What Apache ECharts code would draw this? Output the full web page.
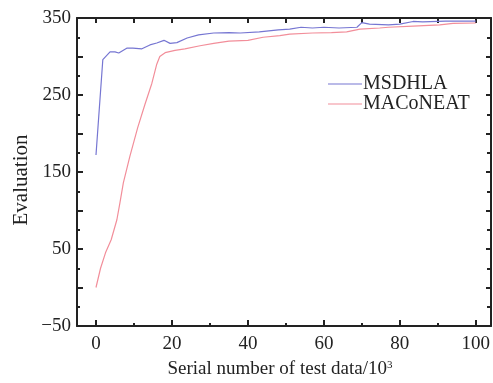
<!DOCTYPE html>
<html>
<head>
<meta charset="utf-8">
<script src="https://cdn.jsdelivr.net/npm/echarts@6/dist/echarts.min.js"></script>
<style>html,body{margin:0;padding:0;background:#fff}#c{width:493px;height:383px}</style>
</head>
<body>
<div id="c"></div>
<script>
const seriesNames = ['MSDHLA', 'MACoNEAT'];
const msdhlaX = [0, 1.8, 3.7, 5, 6, 8.2, 9.7, 12.1, 14.2, 16, 17.9, 19.5, 21.3, 24, 27, 31, 35, 38, 43, 48, 51, 54, 57, 60, 64, 68.7, 70, 72, 77, 80, 83.5, 86, 92, 100];
const msdhlaY = [172, 296, 306, 306, 304.5, 311, 311, 310, 315, 317.5, 321, 317, 318, 324, 328, 330.5, 331, 330.5, 332, 334.5, 335.5, 338, 337, 338, 337, 338, 344, 342, 341, 342, 345.5, 345, 346, 346];
const maconeatX = [0, 1.2, 2.5, 4, 5.5, 6.3, 7.2, 8.9, 11, 12.9, 14.7, 16, 16.8, 18.2, 20.8, 23.4, 27.4, 31, 35, 40, 44, 48.4, 51, 57, 62, 66, 69.5, 74.7, 77, 83.5, 90.5, 94, 100];
const maconeatY = [0, 25, 45, 62, 88, 110, 136, 170, 208, 238, 265, 290, 300, 305, 308, 310, 314, 317, 320, 321, 325, 327, 329, 330.5, 331, 332, 335.5, 337, 338, 339.5, 341, 343, 343.5];
const xMajorTicks = [0, 20, 40, 60, 80, 100];
const xMinorTicks = [10, 30, 50, 70, 90];
const xAllTicks = [0, 10, 20, 30, 40, 50, 60, 70, 80, 90, 100];
const yLabels = [-50, 50, 150, 250, 350];

const zip = (xs, ys) => xs.map((x, i) => [x, ys[i]]);
const font = 'Liberation Serif';
const black = '#222';
const lineIcon = 'path://M0,0L40,0L40,1L0,1Z';

const chart = echarts.init(document.getElementById('c'), null, {renderer: 'canvas'});
chart.setOption({
  backgroundColor: '#fff',
  animation: false,
  grid: {left: 77, top: 18, right: 2, bottom: 57, containLabel: false, outerBoundsMode: 'none'},
  legend: {
    orient: 'vertical', left: 328, top: 74, itemWidth: 34, itemHeight: 1.3, itemGap: 0, padding: 0,
    textStyle: {fontFamily: font, fontSize: 20, lineHeight: 19, color: black, padding: [0, 0, 0, -4]},
    data: [{name: seriesNames[0], icon: lineIcon}, {name: seriesNames[1], icon: lineIcon}]
  },
  xAxis: [
    {
      type: 'value', min: -5, max: 104, position: 'bottom',
      axisLine: {show: true, onZero: false, lineStyle: {color: black, width: 2}},
      axisTick: {show: true, inside: true, length: 6, customValues: xMajorTicks, lineStyle: {color: black, width: 2}},
      axisLabel: {show: true, customValues: xMajorTicks, fontFamily: font, fontSize: 19, color: black, margin: 9},
      splitLine: {show: false},
      name: 'Serial number of test data/10{sup|3}', nameLocation: 'middle', nameGap: 34,
      nameTextStyle: {fontFamily: font, fontSize: 19, color: black, padding: [0, 8, 0, 0],
        rich: {sup: {fontFamily: font, fontSize: 11, color: black, verticalAlign: 'top', padding: [0, 0, 8, 0]}}}
    },
    {
      type: 'value', min: -5, max: 104, position: 'bottom',
      axisLine: {show: false, onZero: false},
      axisTick: {show: true, inside: true, length: 3, customValues: xMinorTicks, lineStyle: {color: black, width: 2}},
      axisLabel: {show: false}, splitLine: {show: false}
    },
    {
      type: 'value', min: -5, max: 104, position: 'top',
      axisLine: {show: true, onZero: false, lineStyle: {color: black, width: 2}},
      axisTick: {show: true, inside: true, length: 5, customValues: xAllTicks, lineStyle: {color: black, width: 2}},
      axisLabel: {show: false}, splitLine: {show: false}
    }
  ],
  yAxis: [
    {
      type: 'value', min: -50, max: 350, interval: 50, position: 'left',
      axisLine: {show: true, onZero: false, lineStyle: {color: black, width: 2}},
      axisTick: {show: true, inside: true, length: 6, lineStyle: {color: black, width: 2}},
      minorTick: {show: true, splitNumber: 2, length: 3, lineStyle: {color: black, width: 2}},
      axisLabel: {fontFamily: font, fontSize: 19, color: black, margin: 6,
        formatter: v => (yLabels.indexOf(v) >= 0 ? (v < 0 ? '\u2212' + Math.abs(v) : String(v)) : '')},
      splitLine: {show: false},
      name: 'Evaluation', nameLocation: 'middle', nameGap: 45, nameMoveOverlap: false,
      nameTextStyle: {fontFamily: font, fontSize: 21, color: black, padding: [0, 16, 0, 0]}
    },
    {
      type: 'value', min: -50, max: 350, interval: 50, position: 'right',
      axisLine: {show: true, onZero: false, lineStyle: {color: black, width: 2}},
      axisTick: {show: true, inside: true, length: 5, lineStyle: {color: black, width: 2}},
      minorTick: {show: true, splitNumber: 2, length: 4, lineStyle: {color: black, width: 2}},
      axisLabel: {show: false}, splitLine: {show: false}
    }
  ],
  series: [
    {name: seriesNames[0], type: 'line', xAxisIndex: 0, yAxisIndex: 0, symbol: 'none',
      lineStyle: {color: '#7676d2', width: 1.2}, itemStyle: {color: '#7676d2'}, data: zip(msdhlaX, msdhlaY)},
    {name: seriesNames[1], type: 'line', xAxisIndex: 0, yAxisIndex: 0, symbol: 'none',
      lineStyle: {color: '#f28e9a', width: 1.2}, itemStyle: {color: '#f28e9a'}, data: zip(maconeatX, maconeatY)}
  ]
});
</script>
</body>
</html>
